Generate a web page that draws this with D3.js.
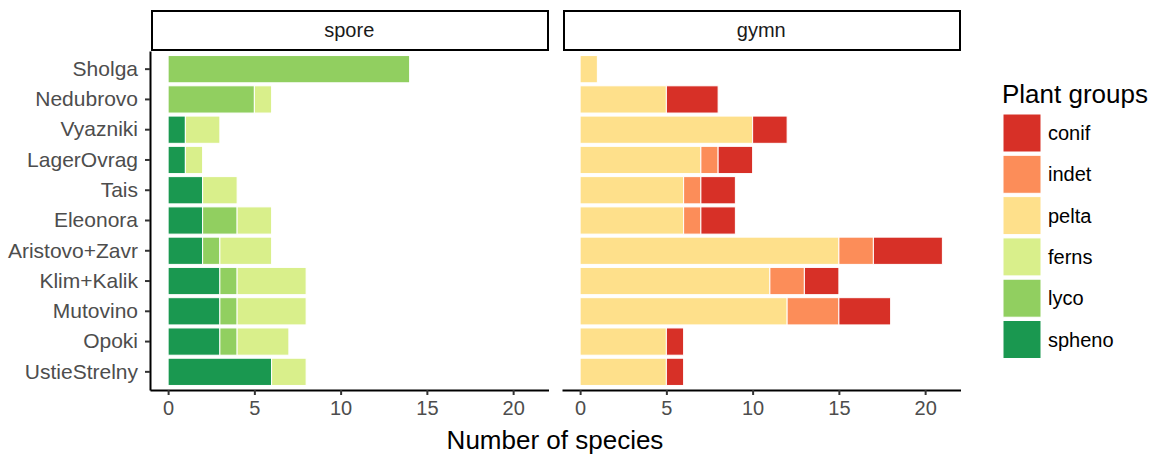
<!DOCTYPE html>
<html>
<head>
<meta charset="utf-8">
<script src="https://cdn.jsdelivr.net/npm/d3@7"></script>
<style>
  body { margin: 0; background: #fff; }
  text { font-family: Arial, "Liberation Sans", sans-serif; }
</style>
</head>
<body>
<div id="chart"></div>
<script>
// sites, top to bottom
var sites = ["Sholga", "Nedubrovo", "Vyazniki", "LagerOvrag", "Tais", "Eleonora",
  "Aristovo+Zavr", "Klim+Kalik", "Mutovino", "Opoki", "UstieStrelny"];

// spore plants
var spheno = [0, 0, 1, 1, 2, 2, 2, 3, 3, 3, 6];
var lyco   = [14, 5, 0, 0, 0, 2, 1, 1, 1, 1, 0];
var ferns  = [0, 1, 2, 1, 2, 2, 3, 4, 4, 3, 2];

// gymnosperms
var pelta = [1, 5, 10, 7, 6, 6, 15, 11, 12, 5, 5];
var indet = [0, 0, 0, 1, 1, 1, 2, 2, 3, 0, 0];
var conif = [0, 3, 2, 2, 2, 2, 4, 2, 3, 1, 1];

var groups = ["conif", "indet", "pelta", "ferns", "lyco", "spheno"];
var groupColors = ["#d73027", "#fc8d59", "#fee08b", "#d9ef8b", "#91cf60", "#1a9850"];
var xTicks = [0, 5, 10, 15, 20];

var facets = [
  { name: "spore", left: 150, series: [["spheno", spheno], ["lyco", lyco], ["ferns", ferns]] },
  { name: "gymn", left: 562, series: [["pelta", pelta], ["indet", indet], ["conif", conif]] }
];

var width = 1156, height = 454;
var panelW = 398.5, panelTop = 51, panelBottom = 390;

var color = d3.scaleOrdinal().domain(groups).range(groupColors);

var svg = d3.select("#chart").append("svg")
  .attr("width", width)
  .attr("height", height);

// shared y scale (ggplot style expansion: 0.6 of a step on each side)
var y = d3.scaleBand()
  .domain(sites)
  .range([panelTop, panelBottom])
  .paddingInner(0.1)
  .paddingOuter(0.15);

facets.forEach(function (f, fi) {
  var x = d3.scaleLinear().domain([-1.05, 22.05]).range([f.left, f.left + panelW]);
  var g = svg.append("g");

  // strip
  g.append("rect")
    .attr("x", f.left + 2).attr("y", 11)
    .attr("width", panelW - 2.5).attr("height", 39)
    .attr("fill", "#fff").attr("stroke", "#000").attr("stroke-width", 2);
  g.append("text")
    .attr("x", f.left + panelW / 2).attr("y", 37)
    .attr("text-anchor", "middle")
    .attr("font-size", "20px").attr("fill", "#1a1a1a")
    .text(f.name);

  // stacked bars
  var rows = sites.map(function (s, i) {
    var o = { site: s };
    f.series.forEach(function (p) { o[p[0]] = p[1][i]; });
    return o;
  });
  var stack = d3.stack().keys(f.series.map(function (p) { return p[0]; }))(rows);

  g.selectAll("g.layer")
    .data(stack)
    .enter().append("g")
    .attr("fill", function (d) { return color(d.key); })
    .selectAll("rect")
    .data(function (d) { return d.filter(function (v) { return v[1] > v[0]; }); })
    .enter().append("rect")
    .attr("x", function (d) { return x(d[0]); })
    .attr("y", function (d) { return y(d.data.site); })
    .attr("width", function (d) { return x(d[1]) - x(d[0]); })
    .attr("height", y.bandwidth())
    .attr("stroke", "#fff")
    .attr("stroke-width", 1);

  // x axis
  var xAxis = g.append("g")
    .attr("transform", "translate(0," + panelBottom + ")")
    .call(d3.axisBottom(x).tickValues(xTicks).tickSize(5).tickPadding(6).tickSizeOuter(0));
  xAxis.select(".domain").attr("stroke", "#000").attr("stroke-width", 2);
  xAxis.selectAll(".tick line").attr("stroke", "#333").attr("stroke-width", 2);
  xAxis.selectAll(".tick text")
    .attr("font-size", "20px").attr("fill", "#4d4d4d")
    .attr("font-family", "Arial, 'Liberation Sans', sans-serif");

  // y axis only on the first panel
  if (fi === 0) {
    var yAxis = g.append("g")
      .attr("transform", "translate(" + f.left + ",0)")
      .call(d3.axisLeft(y).tickSize(5).tickPadding(7).tickSizeOuter(0));
    yAxis.select(".domain").attr("stroke", "#000").attr("stroke-width", 2);
    yAxis.selectAll(".tick line").attr("stroke", "#333").attr("stroke-width", 2);
    yAxis.selectAll(".tick text")
      .attr("font-size", "21px").attr("fill", "#4d4d4d")
      .attr("font-family", "Arial, 'Liberation Sans', sans-serif");
  }
});

// axis title
svg.append("text")
  .attr("x", 555).attr("y", 449)
  .attr("text-anchor", "middle")
  .attr("font-size", "26px").attr("fill", "#000")
  .text("Number of species");

// legend
var legend = svg.append("g");
legend.append("text")
  .attr("x", 1002).attr("y", 103)
  .attr("font-size", "26px").attr("fill", "#000")
  .text("Plant groups");

var items = legend.selectAll("g.item")
  .data(groups)
  .enter().append("g")
  .attr("transform", function (d, i) { return "translate(1003," + (114 + i * 41.3) + ")"; });
items.append("rect")
  .attr("width", 38).attr("height", 38)
  .attr("fill", function (d) { return color(d); })
  .attr("stroke", "#fff").attr("stroke-width", 1);
items.append("text")
  .attr("x", 45).attr("y", 26)
  .attr("font-size", "20px").attr("fill", "#000")
  .text(function (d) { return d; });
</script>
</body>
</html>
